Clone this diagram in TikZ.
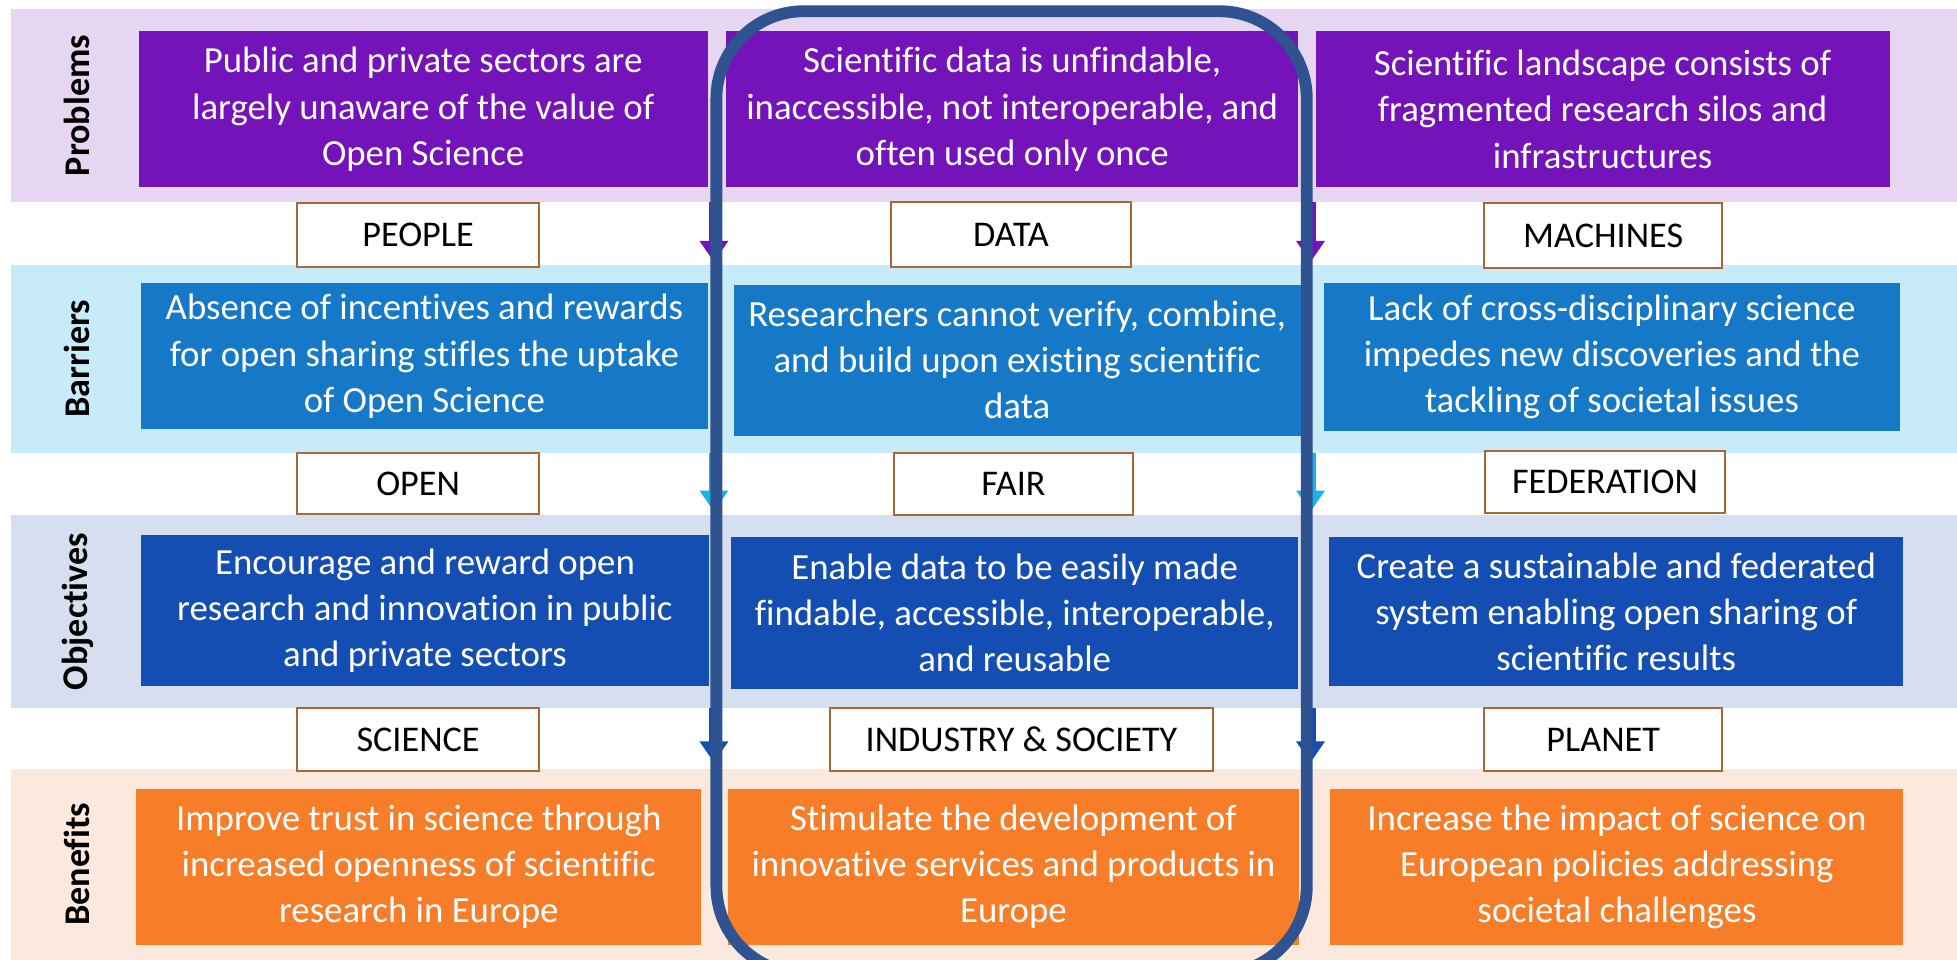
\documentclass[tikz,border=0pt]{standalone}
\usepackage{fontspec}
\setmainfont{Carlito}[Ligatures=NoCommon]
\usetikzlibrary{arrows.meta}
\definecolor{bandPc}{HTML}{E6D6F2}
\definecolor{bandBc}{HTML}{C8EBF9}
\definecolor{bandOc}{HTML}{D6DFEF}
\definecolor{bandNc}{HTML}{FCE9DD}
\definecolor{purp}{HTML}{7413B9}
\definecolor{barblue}{HTML}{1679C7}
\definecolor{objblue}{HTML}{154EB2}
\definecolor{orng}{HTML}{F77D28}
\definecolor{cyanarr}{HTML}{19B1EA}
\definecolor{tagborder}{HTML}{A8683C}
\definecolor{hlblue}{HTML}{2F5391}
\tikzset{
  band/.style={draw=none, inner sep=0pt, outer sep=0pt, rectangle},
  sz/.style 2 args={minimum width=#1pt, minimum height=#2pt},
  cell/.style={inner sep=0pt, outer sep=0pt, text=white, align=center, font=\fontsize{29.5}{37}\selectfont},
  tag/.style={draw=tagborder, line width=1.6pt, fill=white, inner sep=0pt, align=center, font=\fontsize{29}{34}\selectfont},
  rowlab/.style={rotate=90, font=\bfseries\fontsize{29}{34}\selectfont, inner sep=0pt},
  flow/.style={line width=8pt, -{Triangle[width=22pt,length=17pt]}},
  hl/.style={draw=hlblue, line width=9.5pt, rounded corners=70pt}
}
\begin{document}
\begin{tikzpicture}[x=1pt,y=-1pt]
\useasboundingbox (0,0) rectangle (1568,769);
\fill[white] (0,0) rectangle (1568,769);
% bands
\node[band, fill=bandPc, sz={1559}{155}] (bandP) at (788.5,84.5) {};
\node[band, fill=bandBc, sz={1559}{151}] (bandB) at (788.5,287.5) {};
\node[band, fill=bandOc, sz={1559}{154}] (bandO) at (788.5,490) {};
\node[band, fill=bandNc, sz={1559}{153}] (bandN) at (788.5,692.5) {};
% row labels
\node[rowlab] (lP) at (62,84.5) {Problems};
\node[rowlab] (lB) at (62,287.5) {Barriers};
\node[rowlab] (lO) at (62,490) {Objectives};
\node[rowlab] (lN) at (62,692.5) {Benefits};
% problems
\node[cell, fill=purp, sz={456}{125}] (p1) at (339,87.5) {Public and private sectors are\\largely unaware of the value of\\Open Science};
\node[cell, fill=purp, sz={458}{125}] (p2) at (811,87.5) {Scientific data is unfindable,\\inaccessible, not interoperable, and\\often used only once};
\node[cell, fill=purp, sz={460}{125}] (p3) at (1284,87.5) {Scientific landscape consists of\\fragmented research silos and\\infrastructures};
% barriers
\node[cell, fill=barblue, sz={454}{117}] (b1) at (340,285.5) {Absence of incentives and rewards\\for open sharing stifles the uptake\\of Open Science};
\node[cell, fill=barblue, sz={454}{121}] (b2) at (815,288.5) {Researchers cannot verify, combine,\\and build upon existing scientific\\data};
\node[cell, fill=barblue, sz={461}{118}] (b3) at (1291.5,286) {Lack of cross-disciplinary science\\impedes new discoveries and the\\tackling of societal issues};
% objectives
\node[cell, fill=objblue, sz={455}{121}] (o1) at (340.5,489.5) {Encourage and reward open\\research and innovation in public\\and private sectors};
\node[cell, fill=objblue, sz={454}{122}] (o2) at (813,491) {Enable data to be easily made\\findable, accessible, interoperable,\\and reusable};
\node[cell, fill=objblue, sz={460}{120}] (o3) at (1295,490) {Create a sustainable and federated\\system enabling open sharing of\\scientific results};
% benefits
\node[cell, fill=orng, sz={453}{125}] (n1) at (335.5,694.5) {Improve trust in science through\\increased openness of scientific\\research in Europe};
\node[cell, fill=orng, sz={458}{125}] (n2) at (812,694.5) {Stimulate the development of\\innovative services and products in\\Europe};
\node[cell, fill=orng, sz={459}{125}] (n3) at (1295.5,694.5) {Increase the impact of science on\\European policies addressing\\societal challenges};
% tags
\node[tag, sz={194}{51}] (t11) at (335,188.5) {PEOPLE};
\node[tag, sz={192}{52}] (t12) at (810,188) {DATA};
\node[tag, sz={191}{52}] (t13) at (1284.5,189) {MACHINES};
\node[tag, sz={194}{49}] (t21) at (335,387.5) {OPEN};
\node[tag, sz={192}{50}] (t22) at (812,388) {FAIR};
\node[tag, sz={192}{50}] (t23) at (1286,386) {FEDERATION};
\node[tag, sz={194}{51}] (t31) at (335,592.5) {SCIENCE};
\node[tag, sz={307}{51}] (t32) at (818.5,592.5) {INDUSTRY \& SOCIETY};
\node[tag, sz={191}{51}] (t33) at (1284.5,592.5) {PLANET};
% arrows
\coordinate (ax1) at (572,0);
\coordinate (ax2) at (1050,0);
\draw[flow, draw=purp, shorten >=2pt] (bandP.south -| ax1) -- (bandB.north -| ax1);
\draw[flow, draw=purp, shorten >=2pt] (bandP.south -| ax2) -- (bandB.north -| ax2);
\draw[flow, draw=cyanarr, shorten >=3pt] (bandB.south -| ax1) -- (bandO.north -| ax1);
\draw[flow, draw=cyanarr, shorten >=3pt] (bandB.south -| ax2) -- (bandO.north -| ax2);
\draw[flow, draw=objblue, shorten >=5pt] (bandO.south -| ax1) -- (bandN.north -| ax1);
\draw[flow, draw=objblue, shorten >=5pt] (bandO.south -| ax2) -- (bandN.north -| ax2);
% highlight
\draw[hl] (574,9) rectangle (1047,780);
\end{tikzpicture}
\end{document}
